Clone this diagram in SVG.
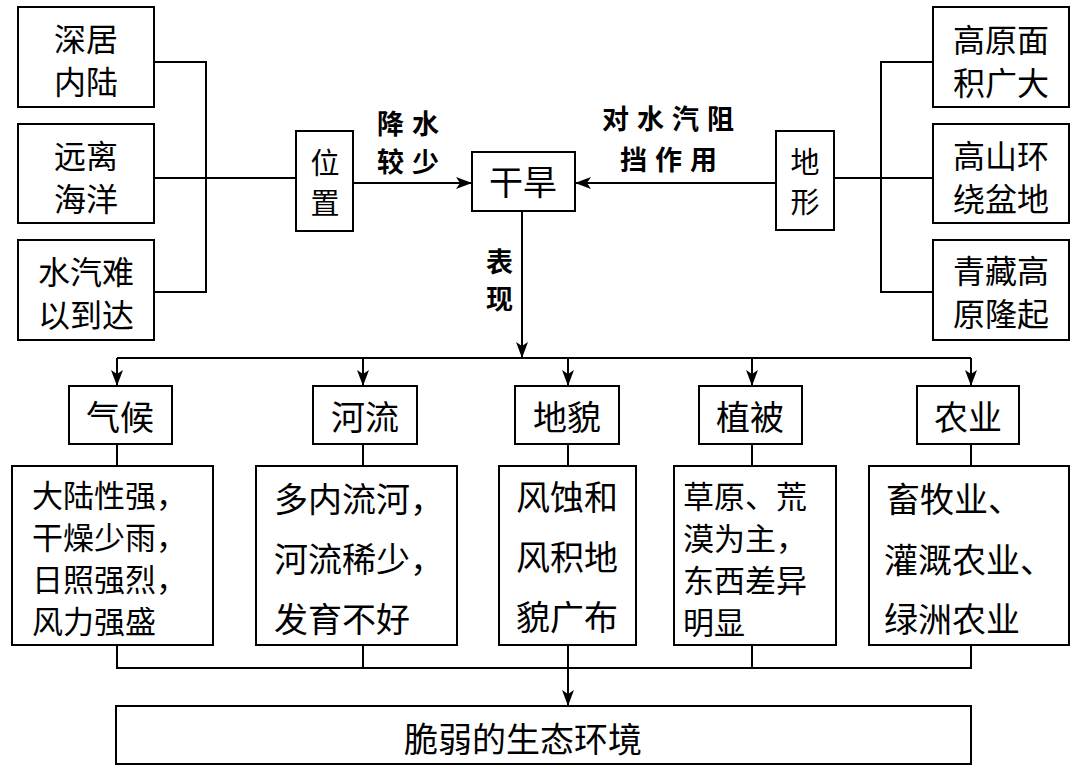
<svg xmlns="http://www.w3.org/2000/svg" width="1080" height="774" viewBox="0 0 1080 774">
<style>
.b{fill:#fff;stroke:#000;stroke-width:2}
.t{font-family:"Noto Sans CJK SC","Noto Sans CJK TC",sans-serif;font-size:34px;fill:#000;text-anchor:middle;dominant-baseline:central}
.s{font-size:32px}
.x{font-size:31px}
.v{font-size:29px}
.tl{text-anchor:start}
.lab{font-family:"Noto Sans CJK SC",sans-serif;font-size:27px;font-weight:bold;fill:#000;letter-spacing:8px;dominant-baseline:central}
.c{fill:none;stroke:#000;stroke-width:2}
</style>
<defs>
<marker id="ah" viewBox="0 0 16 12" refX="16" refY="6" markerWidth="16" markerHeight="12" markerUnits="userSpaceOnUse" orient="auto">
<path d="M0,0 L16,6 L0,12 L4,6 z" fill="#000"/>
</marker>
</defs>
<rect width="1080" height="774" fill="#fff"/>
<g id="connectors">
<path class="c" d="M154,62 H206 V292 H154 M154,178 H296"/>
<path class="c" d="M933,62 H881 V292 H933 M834,178 H933"/>
<line class="c" x1="353" y1="183" x2="472" y2="183" marker-end="url(#ah)"/>
<line class="c" x1="776" y1="183" x2="575" y2="183" marker-end="url(#ah)"/>
<line class="c" x1="522" y1="211" x2="522" y2="358" marker-end="url(#ah)"/>
<line class="c" x1="117" y1="358" x2="971" y2="358"/>
<line class="c" x1="117" y1="358" x2="117" y2="386" marker-end="url(#ah)"/>
<line class="c" x1="363" y1="358" x2="363" y2="386" marker-end="url(#ah)"/>
<line class="c" x1="568" y1="358" x2="568" y2="386" marker-end="url(#ah)"/>
<line class="c" x1="752" y1="358" x2="752" y2="386" marker-end="url(#ah)"/>
<line class="c" x1="971" y1="358" x2="971" y2="386" marker-end="url(#ah)"/>
<path class="c" d="M117,444 V466 M363,444 V466 M568,444 V466 M752,444 V466 M971,444 V466"/>
<path class="c" d="M117,645 V668 H971 V645 M363,645 V668 M568,645 V668 M752,645 V668"/>
<line class="c" x1="568" y1="668" x2="568" y2="706" marker-end="url(#ah)"/>
<text class="lab" x="377" y="122">降水</text>
<text class="lab" x="377" y="160">较少</text>
<text class="lab" x="602" y="117">对水汽阻</text>
<text class="lab" x="620" y="158">挡作用</text>
<text class="lab" x="486" y="260">表</text>
<text class="lab" x="486" y="297">现</text>
</g>
<g id="n1"><rect class="b" x="18" y="7" width="136" height="100"/><text class="t s" x="86" y="37">深居</text><text class="t s" x="86" y="80">内陆</text></g>
<g id="n2"><rect class="b" x="18" y="124" width="136" height="99"/><text class="t s" x="86" y="154">远离</text><text class="t s" x="86" y="197">海洋</text></g>
<g id="n3"><rect class="b" x="18" y="240" width="136" height="100"/><text class="t s" x="86" y="270">水汽难</text><text class="t s" x="86" y="313">以到达</text></g>
<g id="n4"><rect class="b" x="296" y="131" width="57" height="100"/><text class="t v" x="325" y="161">位</text><text class="t v" x="325" y="201">置</text></g>
<g id="n5"><rect class="b" x="472" y="152" width="103" height="59"/><text class="t" x="523" y="180">干旱</text></g>
<g id="n6"><rect class="b" x="776" y="131" width="58" height="99"/><text class="t v" x="805" y="160">地</text><text class="t v" x="805" y="200">形</text></g>
<g id="n7"><rect class="b" x="933" y="7" width="136" height="100"/><text class="t s" x="1001" y="38">高原面</text><text class="t s" x="1001" y="81">积广大</text></g>
<g id="n8"><rect class="b" x="933" y="124" width="136" height="99"/><text class="t s" x="1001" y="154">高山环</text><text class="t s" x="1001" y="197">绕盆地</text></g>
<g id="n9"><rect class="b" x="933" y="240" width="136" height="100"/><text class="t s" x="1001" y="269">青藏高</text><text class="t s" x="1001" y="312">原隆起</text></g>
<g id="h1"><rect class="b" x="69" y="386" width="103" height="58"/><text class="t" x="120" y="415">气候</text></g>
<g id="h2"><rect class="b" x="313" y="386" width="104" height="58"/><text class="t" x="365" y="415">河流</text></g>
<g id="h3"><rect class="b" x="515" y="386" width="104" height="58"/><text class="t" x="567" y="415">地貌</text></g>
<g id="h4"><rect class="b" x="699" y="386" width="103" height="58"/><text class="t" x="750" y="415">植被</text></g>
<g id="h5"><rect class="b" x="917" y="386" width="102" height="58"/><text class="t" x="968" y="415">农业</text></g>
<g id="d1"><rect class="b" x="12" y="466" width="201" height="179"/>
<text class="t x tl" x="32" y="493">大陆性强，</text><text class="t x tl" x="32" y="535">干燥少雨，</text><text class="t x tl" x="32" y="577">日照强烈，</text><text class="t x tl" x="32" y="619">风力强盛</text></g>
<g id="d2"><rect class="b" x="256" y="466" width="201" height="179"/>
<text class="t tl" x="274" y="497">多内流河，</text><text class="t tl" x="274" y="557">河流稀少，</text><text class="t tl" x="274" y="617">发育不好</text></g>
<g id="d3"><rect class="b" x="499" y="466" width="137" height="179"/>
<text class="t" x="567" y="495">风蚀和</text><text class="t" x="567" y="555">风积地</text><text class="t" x="567" y="615">貌广布</text></g>
<g id="d4"><rect class="b" x="674" y="466" width="162" height="179"/>
<text class="t x tl" x="683" y="494">草原、荒</text><text class="t x tl" x="683" y="536">漠为主，</text><text class="t x tl" x="683" y="578">东西差异</text><text class="t x tl" x="683" y="620">明显</text></g>
<g id="d5"><rect class="b" x="869" y="466" width="200" height="179"/>
<text class="t tl" x="886" y="497">畜牧业、</text><text class="t tl" x="884" y="558">灌溉农业、</text><text class="t tl" x="884" y="617">绿洲农业</text></g>
<g id="bottom"><rect class="b" x="116" y="706" width="855" height="58"/><text class="t" x="523" y="737">脆弱的生态环境</text></g>
</svg>
